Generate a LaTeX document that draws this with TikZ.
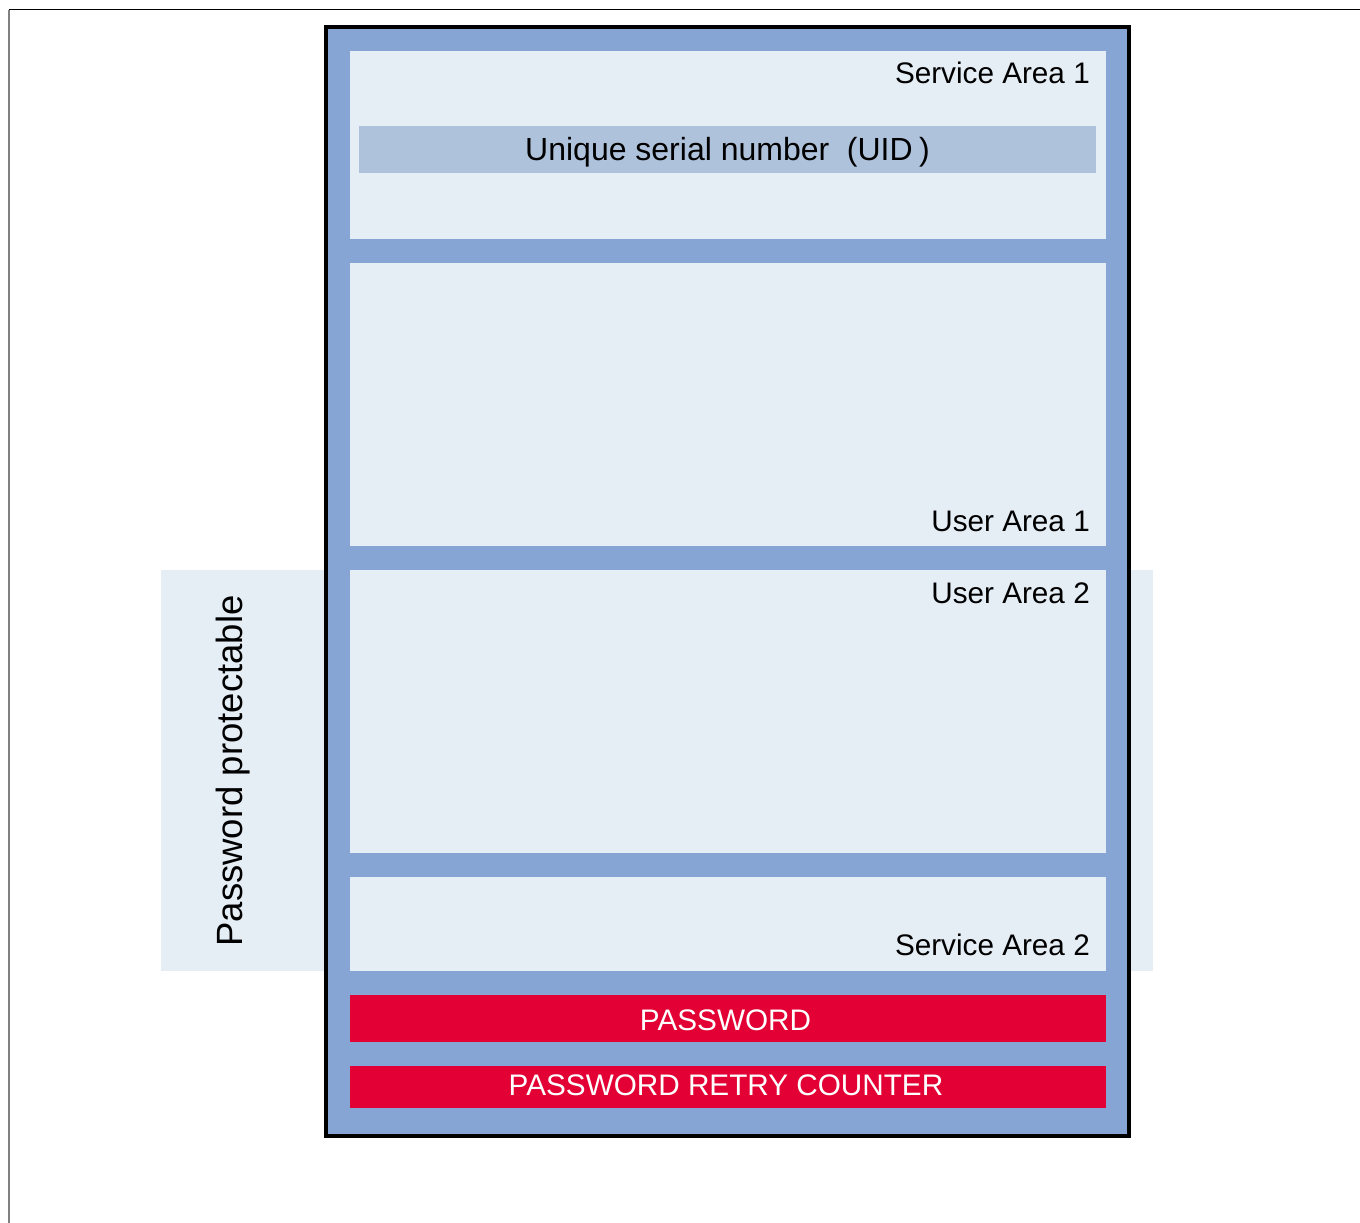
\documentclass[tikz,border=0pt]{standalone}
\usepackage{fontspec}
\setmainfont{Liberation Sans}
\usetikzlibrary{positioning}
\usepackage{xcolor}
\definecolor{memblue}{RGB}{134,165,212}
\definecolor{memlight}{RGB}{229,237,245}
\definecolor{uidblue}{RGB}{175,194,219}
\definecolor{memred}{RGB}{227,0,52}

\begin{document}
\begin{tikzpicture}[x=1pt,y=-1pt,
		box/.style = {anchor=north west, inner sep=0pt, outer sep=0pt},
		area/.style = {box, fill=memlight},
		redbar/.style = {box, fill=memred},
		lbl/.style = {font=\fontsize{29.7}{34}\selectfont, inner sep=0pt}]
		\useasboundingbox (0,0) rectangle (1360,1223);
		% page frame
		\coordinate (ftl) at (9,10);
		\coordinate (ftr) at (1360,10);
		\coordinate (fbl) at (9,1223);
		\draw[line width=1pt] (ftl) -- (ftr);
		\draw[gray, line width=1.5pt] (ftl) -- (fbl);
		% protected region
		\node[area, minimum width=992, minimum height=401] (protect) at (161,570) {};
		\node[lbl, font=\fontsize{36.5}{40}\selectfont, rotate=90, anchor=base] (prottext) at (242,771) {Password protectable};
		% memory
		\node[box, draw, line width=4pt, fill=memblue, minimum width=803, minimum height=1109] (chip) at (326,27) {};
		\node[area, minimum width=756, minimum height=188] (sa1) at (349.5,51) {};
		\node[box, fill=uidblue, minimum width=737, minimum height=47] (uid) at (359,126) {};
		\node[area, minimum width=756, minimum height=283] (ua1) at (349.5,263) {};
		\node[area, minimum width=756, minimum height=283] (ua2) at (349.5,570) {};
		\node[area, minimum width=756, minimum height=94] (sa2) at (349.5,877) {};
		\node[redbar, minimum width=756, minimum height=47] (pw) at (349.5,995) {};
		\node[redbar, minimum width=756, minimum height=42] (prc) at (349.5,1066) {};
		% labels
		\node[lbl, anchor=base east] (sa1text) at (1090,84) {Service Area 1};
		\node[lbl, font=\fontsize{32}{36}\selectfont, anchor=base] (uidtext) at (727.5,160) {Unique serial number\hspace{0.55em}(UID\hspace{0.2em})};
		\node[lbl, anchor=base east] (ua1text) at (1090,531) {User Area 1};
		\node[lbl, anchor=base east] (ua2text) at (1090,603) {User Area 2};
		\node[lbl, anchor=base east] (sa2text) at (1090,955) {Service Area 2};
		\node[lbl, text=white, anchor=base] (pwtext) at (725.5,1030) {PASSWORD};
		\node[lbl, text=white, anchor=base] (prctext) at (726,1095) {PASSWORD RETRY COUNTER};
	\end{tikzpicture}
\end{document}
